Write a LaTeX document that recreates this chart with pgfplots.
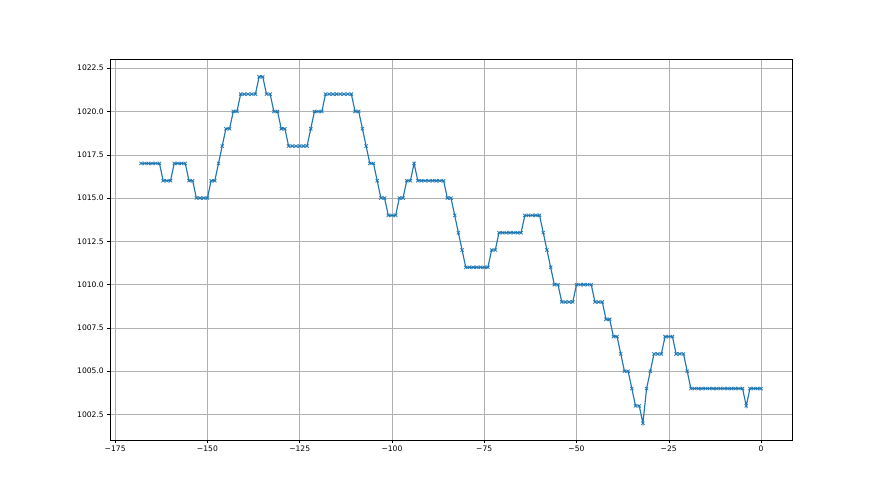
\documentclass[border=0pt]{standalone}
\usepackage{fontspec}
\setmainfont{DejaVu Sans}
\usepackage{pgfplots}
\pgfplotsset{compat=1.18}
\definecolor{mplblue}{HTML}{1F77B4}
\definecolor{mplgrid}{HTML}{B0B0B0}
\begin{document}
\begin{tikzpicture}[x=1pt,y=1pt]
\useasboundingbox (0,0) rectangle (880,495);
\begin{axis}[
  at={(110pt,54.5pt)}, anchor=south west,
  scale only axis, width=682pt, height=381pt,
  xmin=-176.4, xmax=8.4, ymin=1001, ymax=1023,
  xtick={-175,-150,-125,-100,-75,-50,-25,0},
  xticklabels={−175,−150,−125,−100,−75,−50,−25,0},
  ytick={1002.5,1005,1007.5,1010,1012.5,1015,1017.5,1020,1022.5},
  yticklabels={1002.5,1005.0,1007.5,1010.0,1012.5,1015.0,1017.5,1020.0,1022.5},
  tick align=outside, tick pos=left,
  major tick length=2.7pt,
  tick style={black, line width=0.44pt},
  axis line style={black, line width=0.44pt},
  grid=major, major grid style={mplgrid, line width=0.44pt},
  ticklabel style={font=\fontsize{7.6}{9}\selectfont},
  xticklabel style={yshift=0.5pt},
  /pgf/number format/assume math mode=true,
]
\addplot[mplblue, line width=1.15pt, mark=x, mark size=2.3pt,
  mark options={line width=0.76pt, solid}] table {
x y
-168 1017
-167 1017
-166 1017
-165 1017
-164 1017
-163 1017
-162 1016
-161 1016
-160 1016
-159 1017
-158 1017
-157 1017
-156 1017
-155 1016
-154 1016
-153 1015
-152 1015
-151 1015
-150 1015
-149 1016
-148 1016
-147 1017
-146 1018
-145 1019
-144 1019
-143 1020
-142 1020
-141 1021
-140 1021
-139 1021
-138 1021
-137 1021
-136 1022
-135 1022
-134 1021
-133 1021
-132 1020
-131 1020
-130 1019
-129 1019
-128 1018
-127 1018
-126 1018
-125 1018
-124 1018
-123 1018
-122 1019
-121 1020
-120 1020
-119 1020
-118 1021
-117 1021
-116 1021
-115 1021
-114 1021
-113 1021
-112 1021
-111 1021
-110 1020
-109 1020
-108 1019
-107 1018
-106 1017
-105 1017
-104 1016
-103 1015
-102 1015
-101 1014
-100 1014
-99 1014
-98 1015
-97 1015
-96 1016
-95 1016
-94 1017
-93 1016
-92 1016
-91 1016
-90 1016
-89 1016
-88 1016
-87 1016
-86 1016
-85 1015
-84 1015
-83 1014
-82 1013
-81 1012
-80 1011
-79 1011
-78 1011
-77 1011
-76 1011
-75 1011
-74 1011
-73 1012
-72 1012
-71 1013
-70 1013
-69 1013
-68 1013
-67 1013
-66 1013
-65 1013
-64 1014
-63 1014
-62 1014
-61 1014
-60 1014
-59 1013
-58 1012
-57 1011
-56 1010
-55 1010
-54 1009
-53 1009
-52 1009
-51 1009
-50 1010
-49 1010
-48 1010
-47 1010
-46 1010
-45 1009
-44 1009
-43 1009
-42 1008
-41 1008
-40 1007
-39 1007
-38 1006
-37 1005
-36 1005
-35 1004
-34 1003
-33 1003
-32 1002
-31 1004
-30 1005
-29 1006
-28 1006
-27 1006
-26 1007
-25 1007
-24 1007
-23 1006
-22 1006
-21 1006
-20 1005
-19 1004
-18 1004
-17 1004
-16 1004
-15 1004
-14 1004
-13 1004
-12 1004
-11 1004
-10 1004
-9 1004
-8 1004
-7 1004
-6 1004
-5 1004
-4 1003
-3 1004
-2 1004
-1 1004
0 1004
};
\end{axis}
\end{tikzpicture}
\end{document}
